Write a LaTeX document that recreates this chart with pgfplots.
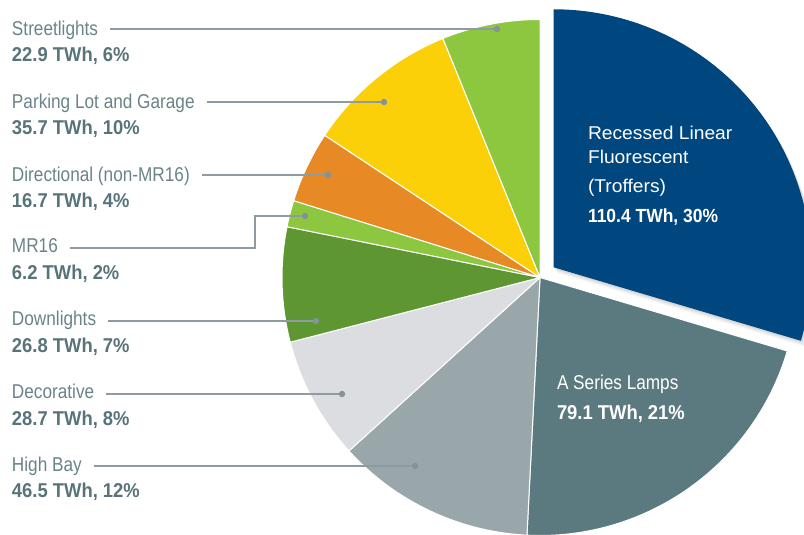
\documentclass[border=0pt]{standalone}
\usepackage{pgfplots}
\pgfplotsset{compat=1.18}
\usepackage{fontspec}
\setmainfont{Liberation Sans}
\newfontfamily\fN{Liberation Sans}[FakeStretch=0.86]
\newfontfamily\fV{Liberation Sans}[FakeStretch=0.92]
\newfontfamily\fR{Liberation Sans}[FakeStretch=1.04]

\definecolor{cRLF}{HTML}{00467F}
\definecolor{cASL}{HTML}{5B7A80}
\definecolor{cHB}{HTML}{9AA7AA}
\definecolor{cDec}{HTML}{DCDDE1}
\definecolor{cDL}{HTML}{5E9732}
\definecolor{cMR}{HTML}{8DC63F}
\definecolor{cDir}{HTML}{E78A25}
\definecolor{cPL}{HTML}{FCD008}
\definecolor{cSL}{HTML}{8DC63F}
\definecolor{cName}{HTML}{6A8389}
\definecolor{cVal}{HTML}{58737A}
\definecolor{cLead}{HTML}{8E9CA1}
\definecolor{cDot}{HTML}{84939A}

% values (TWh), clockwise from 12 o'clock
\def\vA{110.4}% Recessed Linear Fluorescent (Troffers)
\def\vB{79.1}%  A Series Lamps
\def\vC{46.5}%  High Bay
\def\vD{28.7}%  Decorative
\def\vE{26.8}%  Downlights
\def\vF{6.2}%   MR16
\def\vG{16.7}%  Directional (non-MR16)
\def\vH{35.7}%  Parking Lot and Garage
\def\vI{22.9}%  Streetlights
\pgfmathsetmacro\tot{\vA+\vB+\vC+\vD+\vE+\vF+\vG+\vH+\vI}
\pgfmathsetmacro\aO{90}
\pgfmathsetmacro\aA{\aO-360*(\vA/\tot)}
\pgfmathsetmacro\aB{\aA-360*(\vB/\tot)}
\pgfmathsetmacro\aC{\aB-360*(\vC/\tot)}
\pgfmathsetmacro\aD{\aC-360*(\vD/\tot)}
\pgfmathsetmacro\aE{\aD-360*(\vE/\tot)}
\pgfmathsetmacro\aF{\aE-360*(\vF/\tot)}
\pgfmathsetmacro\aG{\aF-360*(\vG/\tot)}
\pgfmathsetmacro\aH{\aG-360*(\vH/\tot)}
\pgfmathsetmacro\aI{\aH-360*(\vI/\tot)}

\newcommand\pieR{258pt}
\newcommand\pieslice[5]{\fill[#1, draw=white, line width=1pt, line join=round]
  (axis cs:#4,#5) -- ++(#2:\pieR) arc[start angle=#2, end angle=#3, radius=\pieR] -- cycle;}

\newcommand\nameF{\fN\fontsize{20}{24}\selectfont}
\newcommand\valF{\fV\bfseries\fontsize{20}{24}\selectfont}

\begin{document}
\begin{tikzpicture}[every node/.style={inner sep=0pt, outer sep=0pt}]
\begin{axis}[
  hide axis, scale only axis,
  width=804pt, height=535pt,
  xmin=0, xmax=804, ymin=0, ymax=535,
  clip=true,
]
% shadow of exploded slice
\fill[black, opacity=0.05] (axis cs:554.6,266.2) -- ++(\aO:\pieR) arc[start angle=\aO, end angle=\aA, radius=\pieR] -- cycle;
\fill[black, opacity=0.05] (axis cs:555.6,264.7) -- ++(\aO:\pieR) arc[start angle=\aO, end angle=\aA, radius=\pieR] -- cycle;
\fill[black, opacity=0.04] (axis cs:556.6,263.2) -- ++(\aO:\pieR) arc[start angle=\aO, end angle=\aA, radius=\pieR] -- cycle;
\fill[black, opacity=0.03] (axis cs:557.6,261.7) -- ++(\aO:\pieR) arc[start angle=\aO, end angle=\aA, radius=\pieR] -- cycle;
% slices
\fill[cRLF] (axis cs:553.6,267.7) -- ++(\aO:\pieR) arc[start angle=\aO, end angle=\aA, radius=\pieR] -- cycle;
\pieslice{cASL}{\aA}{\aB}{540}{257.5}
\pieslice{cHB}{\aB}{\aC}{540}{257.5}
\pieslice{cDec}{\aC}{\aD}{540}{257.5}
\pieslice{cDL}{\aD}{\aE}{540}{257.5}
\pieslice{cMR}{\aE}{\aF}{540}{257.5}
\pieslice{cDir}{\aF}{\aG}{540}{257.5}
\pieslice{cPL}{\aG}{\aH}{540}{257.5}
\pieslice{cSL}{\aH}{\aI}{540}{257.5}

% inner labels
\node[anchor=base west, text=white, font=\fR\fontsize{18.5}{22}\selectfont] at (axis cs:588,395) {Recessed Linear};
\node[anchor=base west, text=white, font=\fR\fontsize{18.5}{22}\selectfont] at (axis cs:588,371) {Fluorescent};
\node[anchor=base west, text=white, font=\fR\fontsize{18.5}{22}\selectfont] at (axis cs:588,342) {(Troffers)};
\node[anchor=base west, text=white, font=\fV\bfseries\fontsize{19}{22}\selectfont] at (axis cs:588,312) {110.4 TWh, 30\%};
\node[anchor=base west, text=white, font=\nameF] at (axis cs:557,145) {A Series Lamps};
\node[anchor=base west, text=white, font=\valF] at (axis cs:557,115) {79.1 TWh, 21\%};

% outer labels
\node[anchor=base west, text=cName, font=\nameF] (n1) at (axis cs:12,499) {Streetlights};
\node[anchor=base west, text=cVal, font=\valF] at (axis cs:12,473) {22.9 TWh, 6\%};
\node[anchor=base west, text=cName, font=\nameF] (n2) at (axis cs:12,426) {Parking Lot and Garage};
\node[anchor=base west, text=cVal, font=\valF] at (axis cs:12,400) {35.7 TWh, 10\%};
\node[anchor=base west, text=cName, font=\nameF] (n3) at (axis cs:12,353) {Directional (non-MR16)};
\node[anchor=base west, text=cVal, font=\valF] at (axis cs:12,327) {16.7 TWh, 4\%};
\node[anchor=base west, text=cName, font=\nameF] (n4) at (axis cs:12,282) {MR16};
\node[anchor=base west, text=cVal, font=\valF] at (axis cs:12,255) {6.2 TWh, 2\%};
\node[anchor=base west, text=cName, font=\nameF] (n5) at (axis cs:12,209) {Downlights};
\node[anchor=base west, text=cVal, font=\valF] at (axis cs:12,182) {26.8 TWh, 7\%};
\node[anchor=base west, text=cName, font=\nameF] (n6) at (axis cs:12,136) {Decorative};
\node[anchor=base west, text=cVal, font=\valF] at (axis cs:12,109) {28.7 TWh, 8\%};
\node[anchor=base west, text=cName, font=\nameF] (n7) at (axis cs:12,63) {High Bay};
\node[anchor=base west, text=cVal, font=\valF] at (axis cs:12,37) {46.5 TWh, 12\%};

% leader lines
\coordinate (d1) at (axis cs:497,506);
\coordinate (d2) at (axis cs:384,433);
\coordinate (d3) at (axis cs:328,360);
\coordinate (d4) at (axis cs:305,319);
\coordinate (k4) at (axis cs:255,287);
\coordinate (d5) at (axis cs:316,214);
\coordinate (d6) at (axis cs:342,141);
\coordinate (d7) at (axis cs:415,69);
\coordinate (s1) at ([xshift=12pt]n1.base east);
\coordinate (s2) at ([xshift=12pt]n2.base east);
\coordinate (s3) at ([xshift=12pt]n3.base east);
\coordinate (s4) at ([xshift=12pt]n4.base east);
\coordinate (s5) at ([xshift=12pt]n5.base east);
\coordinate (s6) at ([xshift=12pt]n6.base east);
\coordinate (s7) at ([xshift=12pt]n7.base east);
\draw[cLead, line width=1.3pt] (s1 |- d1) -- (d1);
\draw[cLead, line width=1.3pt] (s2 |- d2) -- (d2);
\draw[cLead, line width=1.3pt] (s3 |- d3) -- (d3);
\draw[cLead, line width=1.3pt] (s4 |- k4) -- (k4) |- (d4);
\draw[cLead, line width=1.3pt] (s5 |- d5) -- (d5);
\draw[cLead, line width=1.3pt] (s6 |- d6) -- (d6);
\draw[cLead, line width=1.3pt] (s7 |- d7) -- (d7);
\fill[cDot] (d1) circle[radius=3.2pt];
\fill[cDot] (d2) circle[radius=3.2pt];
\fill[cDot] (d3) circle[radius=3.2pt];
\fill[cDot] (d4) circle[radius=3.2pt];
\fill[cDot] (d5) circle[radius=3.2pt];
\fill[cDot] (d6) circle[radius=3.2pt];
\fill[cDot] (d7) circle[radius=3.2pt];
\end{axis}
\pgfresetboundingbox
\useasboundingbox (0,0) rectangle (804pt,535pt);
\end{tikzpicture}
\end{document}
